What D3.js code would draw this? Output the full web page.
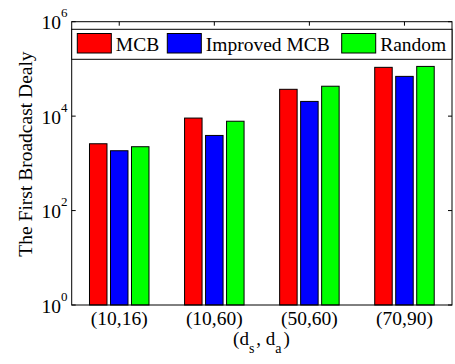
<!DOCTYPE html>
<html>
<head>
  <meta charset="utf-8">
  <script src="https://d3js.org/d3.v7.min.js"></script>
  <style>
    body { margin: 0; background: #fff; }
    text { font-family: "Liberation Serif", "Times New Roman", serif; fill: #000; }
  </style>
</head>
<body>
  <svg width="455" height="364"></svg>
  <script>
    // data
    const categories = ['(10,16)', '(10,60)', '(50,60)', '(70,90)'];
    const seriesNames = ['MCB', 'Improved MCB', 'Random'];
    const mcb = [2600, 9100, 37000, 108000];
    const improvedMcb = [1850, 3900, 20500, 69500];
    const random = [2250, 7800, 43000, 113000];
    const yTicks = [1, 1e2, 1e4, 1e6];
    const yTickExp = ['0', '2', '4', '6'];

    const seriesValues = [mcb, improvedMcb, random];
    const colors = ['#ff0000', '#0000ff', '#00ff00'];

    const svg = d3.select('svg');
    const axL = 71.7, axR = 452, axT = 21.7, axB = 305;

    const x = d3.scaleBand().domain(categories).range([axL, axR]).padding(0);
    const bw = x.bandwidth();
    const xs = d3.scaleBand().domain(seriesNames)
      .range([bw / 2 - 29.75, bw / 2 + 29.75])
      .paddingInner(0.167).paddingOuter(0);
    const y = d3.scaleLog().domain([1, 1e6]).range([axB, axT]);

    // bars
    const groups = svg.append('g').selectAll('g').data(categories)
      .enter().append('g')
      .attr('transform', d => `translate(${x(d)},0)`);

    groups.selectAll('rect')
      .data((c, i) => seriesNames.map((s, j) => ({ s: s, v: seriesValues[j][i], c: colors[j] })))
      .enter().append('rect')
      .attr('x', d => xs(d.s))
      .attr('y', d => y(d.v))
      .attr('width', xs.bandwidth())
      .attr('height', d => axB - y(d.v))
      .attr('fill', d => d.c)
      .attr('stroke', '#000')
      .attr('stroke-width', 1);

    // axes box
    svg.append('rect')
      .attr('x', axL).attr('y', axT)
      .attr('width', axR - axL).attr('height', axB - axT)
      .attr('fill', 'none').attr('stroke', '#000').attr('stroke-width', 1);

    // y ticks, left and right, pointing inward
    const tickLen = 4;
    yTicks.forEach(t => {
      svg.append('line')
        .attr('x1', axL).attr('x2', axL + tickLen)
        .attr('y1', y(t)).attr('y2', y(t)).attr('stroke', '#000');
      svg.append('line')
        .attr('x1', axR).attr('x2', axR - tickLen)
        .attr('y1', y(t)).attr('y2', y(t)).attr('stroke', '#000');
    });

    // x ticks on top
    categories.forEach(c => {
      svg.append('line')
        .attr('x1', x(c) + bw / 2).attr('x2', x(c) + bw / 2)
        .attr('y1', axT).attr('y2', axT + tickLen).attr('stroke', '#000');
    });

    // y tick labels 10^n
    yTicks.forEach((t, i) => {
      const lbl = svg.append('text')
        .attr('x', 41.5).attr('y', y(t) + 7.5)
        .style('font-size', '19.5px');
      lbl.append('tspan').text('10');
      lbl.append('tspan')
        .attr('dy', -12).style('font-size', '13px')
        .text(yTickExp[i]);
    });

    // x tick labels
    svg.append('g').selectAll('text').data(categories)
      .enter().append('text')
      .attr('x', d => x(d) + bw / 2)
      .attr('y', 324.5)
      .attr('text-anchor', 'middle')
      .style('font-size', '19.5px')
      .text(d => d);

    // x axis label (d_s, d_a)
    const xl = svg.append('text')
      .attr('x', 261.5).attr('y', 345)
      .attr('text-anchor', 'middle')
      .style('font-size', '19px');
    xl.append('tspan').text('(d');
    xl.append('tspan').attr('dy', 8).style('font-size', '14px').text('s');
    xl.append('tspan').attr('dy', -8).attr('dx', 2).text(', d');
    xl.append('tspan').attr('dy', 8).style('font-size', '14px').text('a');
    xl.append('tspan').attr('dy', -8).attr('dx', 2).text(')');

    // y axis label
    svg.append('text')
      .attr('transform', 'translate(32,154) rotate(-90)')
      .attr('text-anchor', 'middle')
      .style('font-size', '19.5px')
      .text('The First Broadcast Dealy');

    // legend
    const lg = svg.append('g');
    lg.append('rect')
      .attr('x', axL).attr('y', 29.3)
      .attr('width', axR - axL).attr('height', 30)
      .attr('fill', '#fff').attr('stroke', '#000');
    const swatchX = [77.3, 167.3, 341.7];
    seriesNames.forEach((s, j) => {
      lg.append('rect')
        .attr('x', swatchX[j]).attr('y', 33.5)
        .attr('width', 34).attr('height', 19.5)
        .attr('fill', colors[j]).attr('stroke', '#000');
      lg.append('text')
        .attr('x', swatchX[j] + 38.5).attr('y', 51)
        .style('font-size', '19.5px')
        .text(s);
    });
  </script>
</body>
</html>
